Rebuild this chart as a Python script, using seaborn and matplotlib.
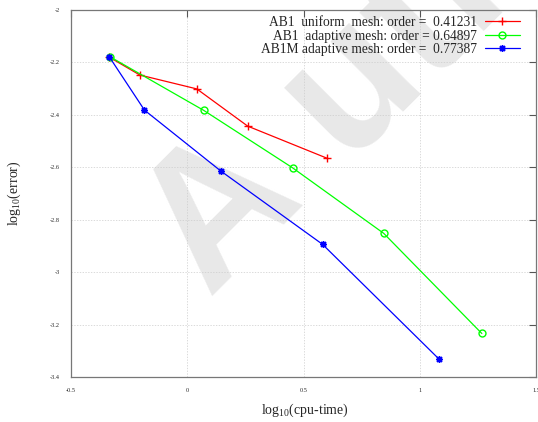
import numpy as np
import pandas as pd
import matplotlib
matplotlib.use("Agg")
import matplotlib.pyplot as plt
import seaborn as sns

# Data
uni_x = [-0.337, -0.204, 0.041, 0.260, 0.600]
uni_y = [-2.179, -2.248, -2.301, -2.443, -2.565]
ada_x = [-0.333, 0.071, 0.453, 0.845, 1.267]
ada_y = [-2.178, -2.383, -2.602, -2.852, -3.234]
abm_x = [-0.335, -0.184, 0.144, 0.582, 1.081]
abm_y = [-2.179, -2.382, -2.614, -2.894, -3.330]

labels = ["AB1  uniform  mesh: order =  0.41231",
          "AB1  adaptive mesh: order = 0.64897",
          "AB1M adaptive mesh: order =  0.77387"]
colors = ["#ff0000", "#00ff00", "#0000ff"]
markers = ["+", "o", (8, 2, 0)]
msizes = [6, 5, 5]

x_ticks = [-0.5, 0, 0.5, 1, 1.5]
x_tick_labels = ["-0.5", "0", "0.5", "1", "1.5"]
y_ticks = [-3.4, -3.2, -3.0, -2.8, -2.6, -2.4, -2.2, -2.0]
y_tick_labels = ["-3.4", "-3.2", "-3", "-2.8", "-2.6", "-2.4", "-2.2", "-2"]

sns.set_style("white")
plt.rcParams["font.family"] = ["Liberation Serif", "DejaVu Serif"]
plt.rcParams["mathtext.fontset"] = "custom"
plt.rcParams["mathtext.rm"] = "Liberation Serif"

W, H = 538, 422
L, R, T, B = 71, 536, 10, 377
fig = plt.figure(figsize=(W / 100, H / 100), dpi=100)
ax = fig.add_axes([L / W, 1 - B / H, (R - L) / W, (B - T) / H])
ax.set_zorder(1)
ax.patch.set_alpha(0)
aw, ah = R - L, B - T

# watermark
wm = dict(fontsize=138, fontweight="bold", family="Liberation Sans",
          color="#e8e8e8", rotation=45, rotation_mode="anchor",
          ha="left", va="baseline", zorder=0)
fig.text(208 / W, 1 - 296 / H, "A", **wm)
fig.text(344 / W, 1 - 160 / H, "uthor", **wm)

series = [(uni_x, uni_y), (ada_x, ada_y), (abm_x, abm_y)]
for (xs, ys), lab, col, mk, ms in zip(series, labels, colors, markers, msizes):
    df = pd.DataFrame({"x": xs, "y": ys})
    sns.lineplot(data=df, x="x", y="y", ax=ax, sort=False, color=col,
                 marker=mk, markersize=ms,
                 markerfacecolor="none" if mk == "o" else col,
                 markeredgecolor=col, markeredgewidth=1.0,
                 linewidth=0.9, label=lab)

ax.set_xlim(-0.5, 1.5)
ax.set_ylim(-3.4, -2.0)
ax.set_xticks(x_ticks)
ax.set_xticklabels(x_tick_labels)
ax.set_yticks(y_ticks)
ax.set_yticklabels(y_tick_labels)
ax.tick_params(direction="in", length=5, width=0.8, color="#555555",
               labelsize=4.5, top=True, right=True)
ax.tick_params(axis="x", pad=8)
ax.tick_params(axis="y", pad=8)
ax.grid(True, color="#cccccc", linestyle=(0, (2, 2)), linewidth=0.5)
for s in ax.spines.values():
    s.set_color("#777777")
    s.set_linewidth(0.9)

ax.set_xlabel(r"log$_{10}$(cpu-time)", fontsize=10)
ax.set_ylabel(r"log$_{10}$(error)", fontsize=10)
ax.xaxis.set_label_coords((305 - L) / aw, (B - 402) / ah)
ax.yaxis.set_label_coords((23 - L) / aw, (B - 193) / ah)

leg = ax.legend(loc="upper right", bbox_to_anchor=(1 - 16 / aw, 1 - 6 / ah),
                frameon=False, markerfirst=False, fontsize=9.75, handlelength=2.6,
                handletextpad=0.55, labelspacing=0.04, borderpad=0, borderaxespad=0)

fig.savefig("out.png", dpi=100)
